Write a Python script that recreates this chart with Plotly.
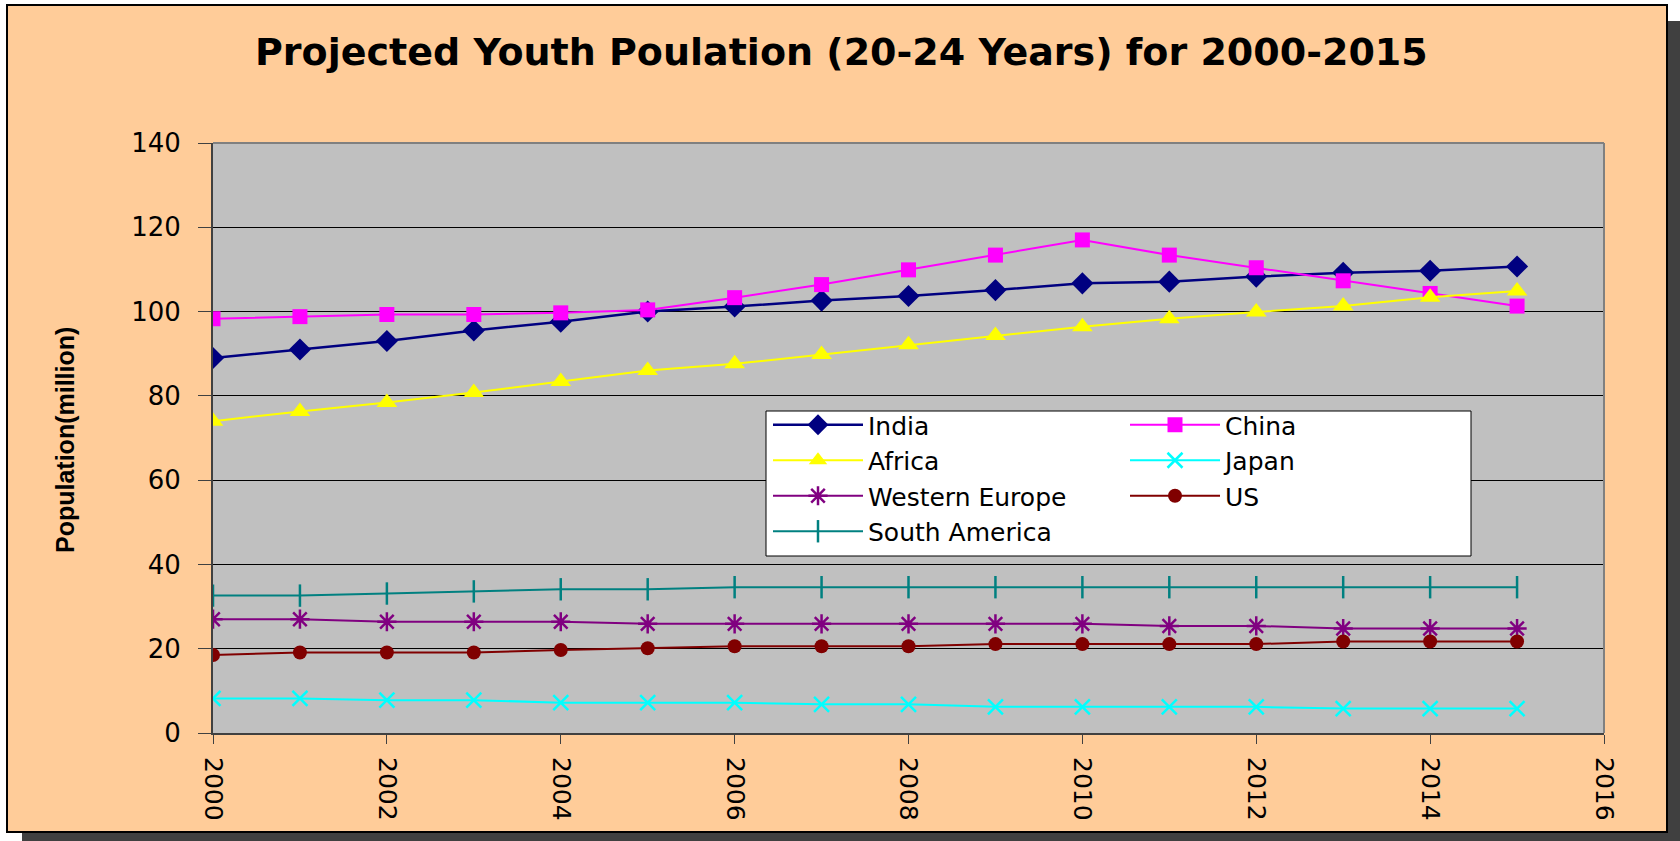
import plotly.graph_objects as go

years = list(range(2000, 2016))

india = [89.0, 91.0, 93.0, 95.5, 97.6, 100.0, 101.2, 102.6, 103.7, 105.1, 106.7, 107.1, 108.3, 109.2, 109.7, 110.7]
china = [98.3, 98.8, 99.3, 99.3, 99.7, 100.4, 103.3, 106.4, 109.9, 113.4, 117.0, 113.4, 110.4, 107.3, 104.3, 101.3]
africa = [74.0, 76.3, 78.4, 80.8, 83.4, 86.0, 87.6, 89.8, 92.1, 94.3, 96.4, 98.3, 99.9, 101.3, 103.4, 104.9]
japan = [8.2, 8.2, 7.8, 7.8, 7.2, 7.2, 7.2, 6.8, 6.8, 6.2, 6.2, 6.2, 6.2, 5.8, 5.8, 5.8]
w_europe = [27.0, 27.0, 26.4, 26.4, 26.4, 25.9, 25.9, 25.9, 25.9, 25.9, 25.9, 25.4, 25.4, 24.8, 24.8, 24.8]
us = [18.5, 19.1, 19.1, 19.1, 19.7, 20.1, 20.6, 20.6, 20.6, 21.1, 21.1, 21.1, 21.1, 21.7, 21.7, 21.7]
s_america = [32.6, 32.6, 33.1, 33.6, 34.1, 34.1, 34.6, 34.6, 34.6, 34.6, 34.6, 34.6, 34.6, 34.6, 34.6, 34.6]

W, H = 1680, 841
L, R, T, B = 213, 76, 143, 108
PW, PH = W - L - R, H - T - B

def fx(x):
    return (x - L) / PW

def fy(y):
    return (H - B - y) / PH

# name, values, color, symbol, size, legend column
series = [
    ("India", india, "#000080", "diamond", 17, "legend"),
    ("China", china, "#FF00FF", "square", 15, "legend2"),
    ("Africa", africa, "#FFFF00", "triangle-up", 18, "legend"),
    ("Japan", japan, "#00FFFF", "x-thin", 15, "legend2"),
    ("Western Europe", w_europe, "#800080", "asterisk", 16, "legend"),
    ("US", us, "#800000", "circle", 14, "legend2"),
    ("South America", s_america, "#008080", "line-ns", 16, "legend"),
]

fig = go.Figure()
for name, vals, col, sym, size, leg in series:
    thin = sym in ("x-thin", "asterisk", "line-ns")
    fig.add_trace(go.Scatter(
        x=years, y=vals, name=name, mode="lines+markers", legend=leg,
        line=dict(color=col, width=2.5 if name == "India" else 2),
        marker=dict(symbol=sym, size=size, color=col,
                    line=dict(color=col, width=2.5 if thin else 0)),
    ))

font_main = "DejaVu Sans, Arial, sans-serif"

fig.update_layout(
    width=W, height=H,
    margin=dict(l=L, r=R, t=T, b=B),
    paper_bgcolor="#FFCC99",
    plot_bgcolor="#C0C0C0",
    font=dict(family=font_main, color="black"),
    xaxis=dict(range=[2000, 2016], tick0=2000, dtick=2, showgrid=False, zeroline=False,
               showline=True, linecolor="#404040", linewidth=2,
               ticks="outside", ticklen=9, tickcolor="#404040", tickangle=90,
               tickfont=dict(size=25, family=font_main), ticklabelstandoff=8),
    yaxis=dict(range=[0, 140], dtick=20, showgrid=True, gridcolor="black", gridwidth=1,
               zeroline=False, showline=True, linecolor="#404040", linewidth=2,
               ticks="outside", ticklen=13, tickcolor="#404040",
               tickfont=dict(size=26, family=font_main), ticklabelstandoff=12),
    legend=dict(x=fx(768), y=fy(402), xanchor="left", yanchor="top",
                bgcolor="rgba(0,0,0,0)", borderwidth=0, itemwidth=90,
                font=dict(size=25, family=font_main), tracegroupgap=0),
    legend2=dict(x=fx(1125), y=fy(402), xanchor="left", yanchor="top",
                 bgcolor="rgba(0,0,0,0)", borderwidth=0, itemwidth=90,
                 font=dict(size=25, family=font_main), tracegroupgap=0),
    showlegend=True,
)

shapes = [
    # white page outside the chart frame
    dict(type="rect", x0=fx(0), x1=fx(W), y0=fy(0), y1=fy(5), fillcolor="white", line_width=0),
    dict(type="rect", x0=fx(0), x1=fx(7), y0=fy(0), y1=fy(H), fillcolor="white", line_width=0),
    dict(type="rect", x0=fx(1667), x1=fx(W), y0=fy(0), y1=fy(21), fillcolor="white", line_width=0),
    dict(type="rect", x0=fx(0), x1=fx(22), y0=fy(832), y1=fy(H), fillcolor="white", line_width=0),
    # drop shadow
    dict(type="rect", x0=fx(1667), x1=fx(W), y0=fy(21), y1=fy(H), fillcolor="#404040", line_width=0),
    dict(type="rect", x0=fx(22), x1=fx(W), y0=fy(832), y1=fy(H), fillcolor="#404040", line_width=0),
    # chart frame
    dict(type="rect", x0=fx(7), x1=fx(1667), y0=fy(5), y1=fy(832), line=dict(color="black", width=2)),
    # plot area border (top and right)
    dict(type="line", x0=0, x1=1, y0=1, y1=1, line=dict(color="#808080", width=2)),
    dict(type="line", x0=1, x1=1, y0=0, y1=1, line=dict(color="#808080", width=2)),
    # legend box
    dict(type="rect", x0=fx(766), x1=fx(1471), y0=fy(411), y1=fy(556),
         fillcolor="white", line=dict(color="black", width=1), layer="above"),
]
for s in shapes:
    s.setdefault("xref", "paper")
    s.setdefault("yref", "paper")
fig.update_layout(shapes=shapes)

fig.add_annotation(text="<b>Projected Youth Poulation (20-24 Years) for 2000-2015</b>",
                   x=fx(841), y=fy(52), xref="paper", yref="paper", showarrow=False,
                   xanchor="center", yanchor="middle",
                   font=dict(size=38, family=font_main, color="black"))
fig.add_annotation(text="<b>Population(million)</b>", textangle=-90,
                   x=fx(65), y=fy(440), xref="paper", yref="paper", showarrow=False,
                   xanchor="center", yanchor="middle",
                   font=dict(size=25, family="Liberation Sans, Arial, sans-serif", color="black"))

# the page body has a default 8px margin; drop it so the figure fills the window
fig.write_html("out.html", config={"displayModeBar": False},
               post_script="document.body.style.margin='0';")
